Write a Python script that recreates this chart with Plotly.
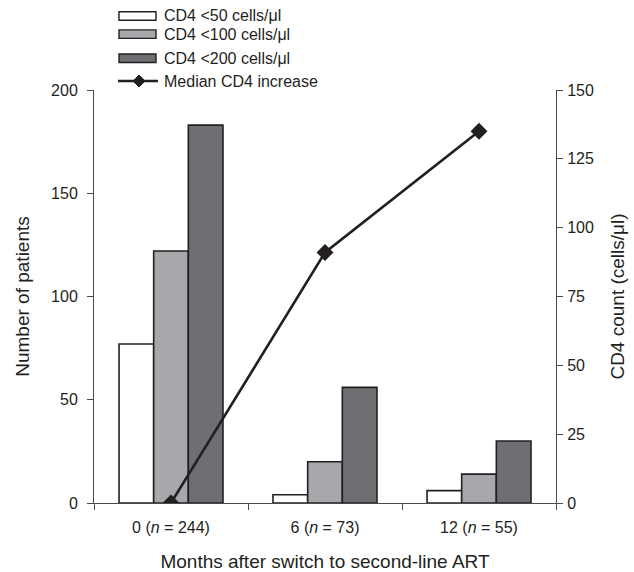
import plotly.graph_objects as go

categories = ["0 (<i>n</i> = 244)", "6 (<i>n</i> = 73)", "12 (<i>n</i> = 55)"]
cd4_lt50 = [77, 4, 6]
cd4_lt100 = [122, 20, 14]
cd4_lt200 = [183, 56, 30]
median_increase = [0, 91, 135]

series_names = ["CD4 <50 cells/μl", "CD4 <100 cells/μl", "CD4 <200 cells/μl", "Median CD4 increase"]
bar_colors = ["#ffffff", "#a7a8ab", "#6e6f73"]

outline = "#231f20"
axis_col = "#4a4a4a"
font_family = "Liberation Sans, Arial, sans-serif"

W, H = 634, 572
L, R, T, B = 94, 78, 90, 69
PW, PH = W - L - R, H - T - B


def px(x):
    return (x - L) / PW


def py(y):
    return (H - B - y) / PH


fig = go.Figure()
for vals, name, col in zip([cd4_lt50, cd4_lt100, cd4_lt200], series_names[:3], bar_colors):
    fig.add_trace(go.Bar(x=categories, y=vals, name=name,
                         marker=dict(color=col, line=dict(color=outline, width=1.6))))
fig.add_trace(go.Scatter(x=categories, y=median_increase, name=series_names[3],
                         yaxis="y2", mode="lines+markers",
                         line=dict(color=outline, width=2.6),
                         marker=dict(symbol="diamond", size=13, color=outline)))

# Custom legend (long swatches like the original)
shapes = []
annotations = []
legend_rows = [(11.7, 20.2), (29.9, 38.4), (54.0, 62.5)]
for (y0, y1), col, name in zip(legend_rows, bar_colors, series_names[:3]):
    shapes.append(dict(type="rect", xref="paper", yref="paper",
                       x0=px(119), x1=px(156), y0=py(y1), y1=py(y0),
                       fillcolor=col, line=dict(color=outline, width=1.4)))
    annotations.append(dict(text=name, xref="paper", yref="paper", x=px(162), y=py((y0 + y1) / 2),
                            xanchor="left", yanchor="middle", showarrow=False,
                            font=dict(size=16, color=outline)))
ly = 81
shapes.append(dict(type="line", xref="paper", yref="paper", x0=px(118), x1=px(158), y0=py(ly), y1=py(ly),
                   line=dict(color=outline, width=2.4)))
dx, dy = 6, 6
cx = 139
shapes.append(dict(type="path", xref="paper", yref="paper",
                   path=f"M {px(cx - dx)},{py(ly)} L {px(cx)},{py(ly - dy)} L {px(cx + dx)},{py(ly)} L {px(cx)},{py(ly + dy)} Z",
                   fillcolor=outline, line=dict(color=outline, width=1)))
annotations.append(dict(text=series_names[3], xref="paper", yref="paper", x=px(162), y=py(ly),
                        xanchor="left", yanchor="middle", showarrow=False,
                        font=dict(size=16, color=outline)))

fig.update_layout(
    template="none",
    width=W, height=H,
    margin=dict(l=L, r=R, t=T, b=B, autoexpand=False),
    paper_bgcolor="white", plot_bgcolor="white",
    font=dict(family=font_family, size=16, color=outline),
    barmode="group", bargap=0.325, bargroupgap=0,
    showlegend=False,
    shapes=shapes,
    annotations=annotations,
    xaxis=dict(type="category", range=[-0.5, 2.5], tickson="boundaries", automargin=False,
               ticks="outside", ticklen=6, tickcolor=axis_col, tickwidth=1,
               showline=True, linecolor=axis_col, linewidth=1,
               showgrid=False, zeroline=False,
               title=dict(text="Months after switch to second-line ART", font=dict(size=19), standoff=21),
               tickfont=dict(size=16), ticklabelstandoff=10),
    yaxis=dict(range=[0, 200], dtick=50, ticks="outside", ticklen=6, tickcolor=axis_col, tickwidth=1,
               automargin=False,
               showline=True, linecolor=axis_col, linewidth=1,
               showgrid=False, zeroline=False,
               title=dict(text="Number of patients", font=dict(size=19), standoff=16),
               tickfont=dict(size=16), ticklabelstandoff=6),
    yaxis2=dict(range=[0, 150], dtick=25, overlaying="y", side="right", automargin=False,
                ticks="outside", ticklen=6, tickcolor=axis_col, tickwidth=1,
                showline=True, linecolor=axis_col, linewidth=1,
                showgrid=False, zeroline=False,
                title=dict(text="CD4 count (cells/μl)", font=dict(size=19), standoff=17),
                tickfont=dict(size=16), ticklabelstandoff=1),
)

fig.write_html("out.html", config={"displayModeBar": False},
               post_script="document.body.style.margin='0';document.body.style.overflow='hidden';")
